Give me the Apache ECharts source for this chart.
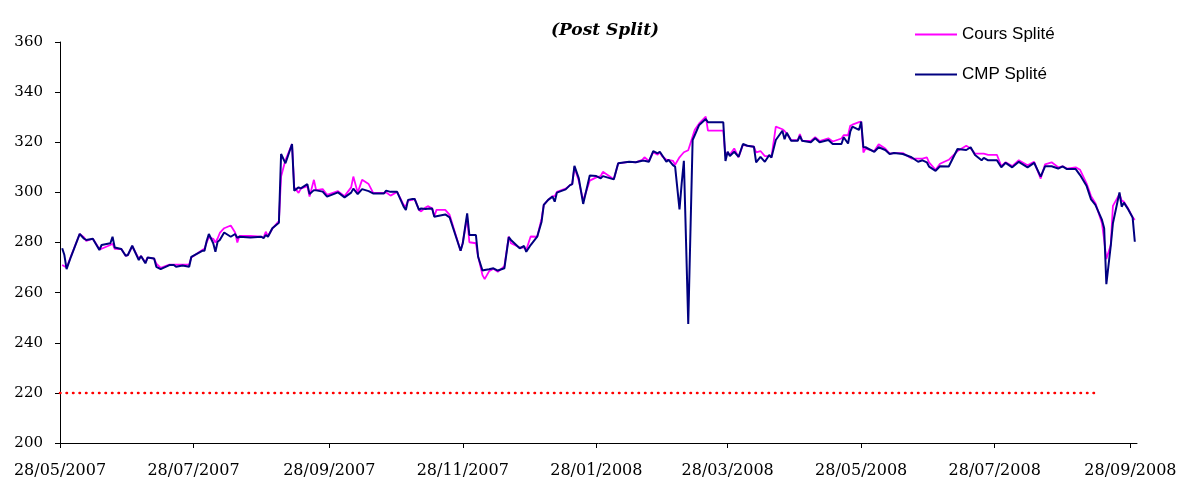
<!DOCTYPE html>
<html>
<head>
<meta charset="utf-8">
<script src="https://cdn.jsdelivr.net/npm/echarts@6/dist/echarts.min.js"></script>
<style>
html, body { margin: 0; padding: 0; background: #fff; }
#main { width: 1186px; height: 485px; }
</style>
</head>
<body>
<div id="main"></div>
<script>
// données
var dates = [
  '2007-05-29','2007-05-30','2007-05-31','2007-06-02','2007-06-06','2007-06-08','2007-06-09','2007-06-12','2007-06-15','2007-06-16',
  '2007-06-20','2007-06-21','2007-06-22','2007-06-25','2007-06-27','2007-06-28','2007-06-30','2007-07-03','2007-07-04','2007-07-06',
  '2007-07-07','2007-07-10','2007-07-11','2007-07-13','2007-07-17','2007-07-19','2007-07-20','2007-07-23','2007-07-26','2007-07-27',
  '2007-08-01','2007-08-02','2007-08-03','2007-08-04','2007-08-06','2007-08-07','2007-08-08','2007-08-09','2007-08-11','2007-08-14',
  '2007-08-16','2007-08-17','2007-08-18','2007-08-23','2007-08-28','2007-08-29','2007-08-30','2007-08-31','2007-09-02','2007-09-05',
  '2007-09-06','2007-09-08','2007-09-11','2007-09-12','2007-09-14','2007-09-15','2007-09-18','2007-09-19','2007-09-21','2007-09-22',
  '2007-09-25','2007-09-27','2007-10-02','2007-10-05','2007-10-08','2007-10-09','2007-10-11','2007-10-13','2007-10-16','2007-10-18',
  '2007-10-23','2007-10-24','2007-10-26','2007-10-29','2007-11-01','2007-11-02','2007-11-03','2007-11-05','2007-11-06','2007-11-08',
  '2007-11-09','2007-11-11','2007-11-12','2007-11-14','2007-11-15','2007-11-16','2007-11-20','2007-11-22','2007-11-27','2007-11-28',
  '2007-11-30','2007-12-01','2007-12-04','2007-12-05','2007-12-07','2007-12-08','2007-12-10','2007-12-12','2007-12-14','2007-12-17',
  '2007-12-19','2007-12-20','2007-12-24','2007-12-26','2007-12-27','2007-12-29','2008-01-01','2008-01-03','2008-01-04','2008-01-06',
  '2008-01-08','2008-01-09','2008-01-10','2008-01-14','2008-01-16','2008-01-17','2008-01-18','2008-01-20','2008-01-22','2008-01-25',
  '2008-01-28','2008-01-30','2008-01-31','2008-02-05','2008-02-07','2008-02-12','2008-02-15','2008-02-18','2008-02-19','2008-02-21',
  '2008-02-23','2008-02-25','2008-02-26','2008-02-27','2008-02-29','2008-03-01','2008-03-03','2008-03-04','2008-03-06','2008-03-07',
  '2008-03-08','2008-03-10','2008-03-12','2008-03-13','2008-03-15','2008-03-18','2008-03-19','2008-03-26','2008-03-27','2008-03-28',
  '2008-03-29','2008-03-31','2008-04-02','2008-04-04','2008-04-06','2008-04-09','2008-04-10','2008-04-12','2008-04-14','2008-04-16',
  '2008-04-17','2008-04-19','2008-04-22','2008-04-23','2008-04-24','2008-04-26','2008-04-29','2008-04-30','2008-05-01','2008-05-05',
  '2008-05-07','2008-05-09','2008-05-13','2008-05-15','2008-05-19','2008-05-20','2008-05-22','2008-05-23','2008-05-24','2008-05-27',
  '2008-05-28','2008-05-29','2008-05-30','2008-06-03','2008-06-05','2008-06-08','2008-06-10','2008-06-12','2008-06-16','2008-06-20',
  '2008-06-23','2008-06-25','2008-06-27','2008-06-28','2008-07-01','2008-07-03','2008-07-07','2008-07-11','2008-07-15','2008-07-17',
  '2008-07-19','2008-07-22','2008-07-23','2008-07-25','2008-07-29','2008-07-31','2008-08-02','2008-08-05','2008-08-08','2008-08-12',
  '2008-08-15','2008-08-18','2008-08-20','2008-08-23','2008-08-26','2008-08-28','2008-08-30','2008-09-03','2008-09-05','2008-09-08',
  '2008-09-10','2008-09-12','2008-09-15','2008-09-16','2008-09-17','2008-09-19','2008-09-20','2008-09-23','2008-09-24','2008-09-25',
  '2008-09-27','2008-09-29','2008-09-30'
];
var cours = [
  271,270.5,270,274.5,283.4,282,280.6,281.5,277.4,277.5,
  279,279.5,277.5,277.4,274.7,275,278.5,273.5,274.6,272,
  274,273.6,271.6,269.9,271.2,271.2,271.2,271.2,271.2,274,
  277,277.5,280,282,281.5,280,281.6,283.8,285.7,286.8,
  284,280,282.6,282.6,282.3,282,284.3,282.5,285.5,288.5,
  306.3,312.9,319.3,302,299.8,301.5,302.5,298.3,305,300.9,
  301.3,299,300.5,298.5,302,306.3,299.9,305,303.3,299.9,
  299.8,300,298.7,300.2,295,294.5,296.7,297,297.4,293,
  292.4,294,294.5,293.6,290.5,293,293,291,276.7,280,
  290,280.1,279.7,274.5,267,265.4,268.5,269.5,268.3,270.5,
  282.4,279.7,278,278,277,282.4,282.3,289.5,295,297,
  298.5,298.5,300.2,301.5,302.9,303.3,310,304.5,296.7,304.7,
  306,306.5,308.2,305.2,311.6,312.2,312,313,314,312.5,
  316,315,316,314.5,313,313,312.6,311,314,315,
  316,316.8,322.3,325,327.5,330.2,324.6,324.6,314.5,316,
  315,317.5,314,319,318.6,318.2,316,316.5,314.5,314.5,
  314,326.2,325.2,324.5,323.5,320.8,320.8,323.3,320.6,320.5,
  322,320.5,321.6,320.3,321.5,322.8,322.8,326.6,327,328,
  328.2,315.9,317.5,316.5,319.2,317.5,315.5,315.7,315.7,313.5,
  313.5,313.5,314,312,309,311.4,313,316.5,318.6,317.5,
  315.5,315.5,315.5,315,315,310.5,312,310.5,312.8,310.8,
  312.2,305.5,311.2,312,310,310.4,309.5,310,309,303.5,
  298.5,295.7,287.7,281,273.4,279,294.6,299.3,296.7,296.3,
  293.5,290,289
];
var cmp = [
  277.7,275,269.4,274.3,283.4,281.5,281,281.5,277,279,
  279.7,282.3,278,277.4,274.7,275,278.7,273,274.6,271.7,
  274,273.6,270.3,269.4,271,271,270.3,270.8,270.3,274.3,
  276.7,276.7,280.6,283.4,279.7,276.3,280.3,281,284,282.3,
  283.4,281.9,282.3,282,282.3,281.7,283,282.3,285.7,287.9,
  315.3,311.6,319.3,300.7,302,301.6,303.3,299.3,300.9,300.8,
  300.3,298.3,300,298,299.9,301.5,299.3,301.3,300.5,299.6,
  299.6,300.7,300.2,300.2,294.3,293,297,297.4,297.4,293,
  293.6,293.4,293.5,293.6,290.3,290.5,291.2,290,276.7,279.7,
  291.6,283,283,274.3,268.8,269,269.3,269.7,268.8,269.7,
  282.1,281,277.7,278.6,276.3,279,282.3,288.3,295,297,
  298.3,296.3,299.9,301.2,302.9,303.3,310.6,305.6,295.4,306.7,
  306.5,305.6,306.5,305.2,311.6,312.2,312,312.6,312.6,312.2,
  316.5,315.6,316.2,314.9,312.2,313,310.9,310.3,293.2,303.6,
  312.6,247.5,320.9,322.9,326.9,329.3,328,328,312.5,316.2,
  314.5,316.2,314.2,319.3,318.6,318.2,312,314.2,312.2,314.9,
  313.9,320.9,324.6,321.2,323.8,320.6,320.6,322.5,320.6,320,
  321.6,320,320.9,319.3,319.3,322,319.5,324.2,326.2,324.9,
  328.2,318,318,316.2,318,316.9,315.3,315.7,315.3,314,
  312.2,312.8,312,310.3,308.6,310.4,310.3,317.3,316.9,318,
  314.9,312.8,313.8,312.8,312.8,310,311.8,310,312.2,310,
  311.8,306.3,310.4,310.4,309.5,310.4,309.3,309.3,306.9,302.5,
  297.2,295,289,285.7,263.4,278.6,287.7,300,294.3,295.9,
  293.2,290,280.3
];
var seuilDates = ['2007-05-28', '2008-09-12'];
var seuil = [220, 220];
var tickDates = ['2007-05-28','2007-07-28','2007-09-28','2007-11-28','2008-01-28',
                 '2008-03-28','2008-05-28','2008-07-28','2008-09-28'];

function toTime(s) {
  var p = s.split('-');
  return new Date(+p[0], +p[1] - 1, +p[2]).getTime();
}
function pad(n) { return n < 10 ? '0' + n : '' + n; }

var tickTimes = tickDates.map(toTime);
var coursData = dates.map(function (d, i) { return [toTime(d), cours[i]]; });
var cmpData = dates.map(function (d, i) { return [toTime(d), cmp[i]]; });
var seuilData = seuilDates.map(function (d, i) { return [toTime(d), seuil[i]]; });

var myChart = echarts.init(document.getElementById('main'));
myChart.setOption({
  animation: false,
  backgroundColor: '#fff',
  title: {
    text: '(Post Split)',
    left: 546,
    top: 17,
    textStyle: { fontFamily: 'DejaVu Serif', fontStyle: 'italic', fontWeight: 'bold', fontSize: 17, color: '#000' }
  },
  legend: {
    orient: 'vertical',
    left: 910,
    top: 21,
    itemGap: 23,
    itemWidth: 42,
    itemHeight: 2,
    icon: 'rect',
    data: ['Cours Splité', 'CMP Splité'],
    textStyle: { fontFamily: 'Liberation Sans', fontSize: 17, color: '#000' }
  },
  grid: { left: 60, right: 49, top: 42, bottom: 42, containLabel: false },
  xAxis: {
    // axe en temps, graduations au 28 tous les deux mois
    type: 'value',
    min: toTime('2007-05-28'),
    max: toTime('2008-10-01'),
    splitLine: { show: false },
    axisLine: { show: true, lineStyle: { color: '#000', width: 1 } },
    axisTick: { show: true, length: 5, lineStyle: { color: '#000' }, customValues: tickTimes },
    axisLabel: {
      customValues: tickTimes,
      margin: 20,
      color: '#000',
      fontFamily: 'DejaVu Serif',
      fontSize: 16,
      hideOverlap: false,
      formatter: function (v) {
        var d = new Date(v);
        return pad(d.getDate()) + '/' + pad(d.getMonth() + 1) + '/' + d.getFullYear();
      }
    }
  },
  yAxis: {
    type: 'value',
    min: 200,
    max: 360,
    interval: 20,
    splitLine: { show: false },
    axisLine: { show: true, lineStyle: { color: '#000', width: 1 } },
    axisTick: { show: true, length: 5, lineStyle: { color: '#000' } },
    axisLabel: { margin: 17, color: '#000', fontFamily: 'DejaVu Serif', fontSize: 15 }
  },
  series: [
    {
      name: 'Cours Splité',
      type: 'line',
      data: coursData,
      showSymbol: false,
      color: '#FF00FF',
      lineStyle: { color: '#FF00FF', width: 1.8 }
    },
    {
      name: 'CMP Splité',
      type: 'line',
      data: cmpData,
      showSymbol: false,
      color: '#000080',
      lineStyle: { color: '#000080', width: 2 }
    },
    {
      name: 'seuil',
      type: 'line',
      data: seuilData,
      showSymbol: false,
      color: '#FF0000',
      lineStyle: { color: '#FF0000', width: 2.5, type: [0.5, 6], cap: 'round' }
    }
  ]
});
</script>
</body>
</html>
